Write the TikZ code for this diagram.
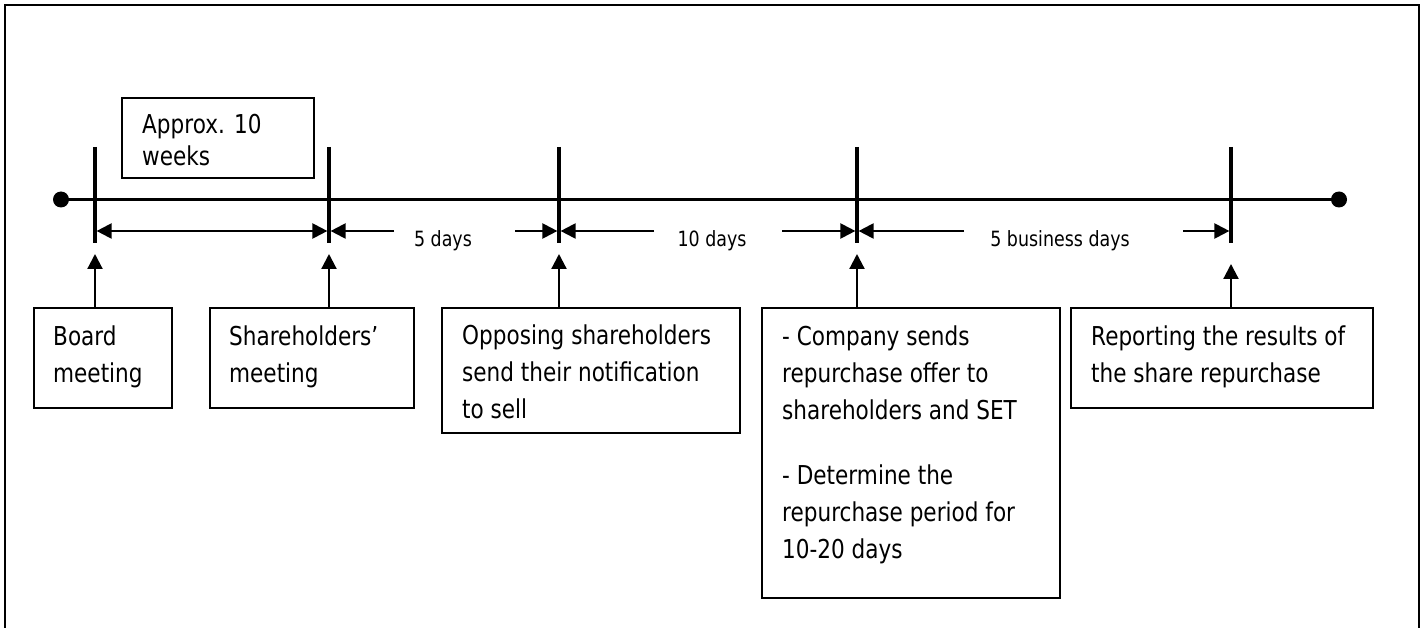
\documentclass[tikz,border=0pt]{standalone}
\usepackage{fontspec}
\setmainfont[FakeStretch=0.83]{DejaVu Sans}
\usetikzlibrary{arrows.meta}

\tikzset{
  frame/.style={line width=2.5pt},
  axis/.style={line width=3.5pt},
  tick/.style={line width=3.2pt},
  dim/.style={line width=2.2pt, -{Triangle[length=15pt,width=15pt]}},
  uparrow/.style={line width=2.2pt, -{Triangle[length=15pt,width=15pt]}},
  box/.style={draw, line width=2.2pt, rectangle, inner sep=0pt, anchor=north west},
  txt/.style={inner sep=0pt, anchor=north west, align=left,
              font=\fontsize{26}{37}\selectfont},
  lbl/.style={inner sep=0pt, anchor=base, font=\fontsize{21}{24}\selectfont},
  endpoint/.style={circle, fill=black, inner sep=0pt, minimum size=16pt},
}

\begin{document}
\begin{tikzpicture}[x=1pt, y=-1pt]
\useasboundingbox (0,0) rectangle (1428,628);

% outer frame (open at the bottom)
\draw[frame] (5,628) -- (5,5) -- (1419,5) -- (1419,628);

% time axis with its end points
\node[endpoint] (start) at (61,199.5) {};
\node[endpoint] (end) at (1339,199.5) {};
\draw[axis] (start.center) -- (end.center);

% milestone ticks
\foreach \i/\x in {1/95, 2/329, 3/559, 4/857, 5/1231} {
  \coordinate (top\i) at (\x,147);
  \coordinate (bot\i) at (\x,243);
  \coordinate (tk\i) at (\x,231);
  \draw[tick] (top\i) -- (bot\i);
}

% interval labels
\node[lbl] (l2) at (443,247) {5 days};
\node[lbl] (l3) at (712,247) {10 days};
\node[lbl] (l4) at (1060,247) {5 business days};

% gap ends of the interval arrows
\coordinate (g2l) at (394,231);
\coordinate (g2r) at (515,231);
\coordinate (g3l) at (654,231);
\coordinate (g3r) at (782,231);
\coordinate (g4l) at (964,231);
\coordinate (g4r) at (1183,231);

% interval arrows
\draw[dim, {Triangle[length=15pt,width=15pt]}-{Triangle[length=15pt,width=15pt]}]
  ([xshift=1.6pt]tk1) -- ([xshift=-1.6pt]tk2);
\draw[dim] (g2l) -- ([xshift=1.6pt]tk2);
\draw[dim] (g2r) -- ([xshift=-1.6pt]tk3);
\draw[dim] (g3l) -- ([xshift=1.6pt]tk3);
\draw[dim] (g3r) -- ([xshift=-1.6pt]tk4);
\draw[dim] (g4l) -- ([xshift=1.6pt]tk4);
\draw[dim] (g4r) -- ([xshift=-1.6pt]tk5);

% duration note above the first interval
\node[box, minimum width=192pt, minimum height=80pt] (approx) at (121,97) {};
\node[txt, font=\fontsize{26}{32}\selectfont] (approxT) at (142,133-22.4)
  {\strut Approx. 10\\weeks};

% event boxes
\node[box, minimum width=138pt, minimum height=100pt] (b1) at (33,307) {};
\node[box, minimum width=204pt, minimum height=100pt] (b2) at (209,307) {};
\node[box, minimum width=298pt, minimum height=125pt] (b3) at (441,307) {};
\node[box, minimum width=298pt, minimum height=290pt] (b4) at (761,307) {};
\node[box, minimum width=302pt, minimum height=100pt] (b5) at (1070,307) {};

\node[txt] (t1) at (53,345-25.9) {\strut Board\\meeting};
\node[txt] (t2) at (229,345-25.9) {\strut Shareholders’\\meeting};
\node[txt] (t3) at (462,344-25.9)
  {\strut Opposing shareholders\\send their notification\\to sell};
\node[txt] (t4) at (782,345-25.9)
  {\strut - Company sends\\repurchase offer to\\shareholders and SET\\[28pt]%
   - Determine the\\repurchase period for\\10-20 days};
\node[txt] (t5) at (1091,345-25.9)
  {\strut Reporting the results of\\the share repurchase};

% arrows from the event boxes up to the ticks
\coordinate (a1) at (95,254);
\coordinate (a2) at (329,254);
\coordinate (a3) at (559,254);
\coordinate (a4) at (857,254);
\coordinate (a5) at (1231,264);
\draw[uparrow] (b1.north -| a1) -- (a1);
\draw[uparrow] (b2.north -| a2) -- (a2);
\draw[uparrow] (b3.north -| a3) -- (a3);
\draw[uparrow] (b4.north -| a4) -- (a4);
\draw[uparrow] (b5.north -| a5) -- (a5);
\end{tikzpicture}
\end{document}
